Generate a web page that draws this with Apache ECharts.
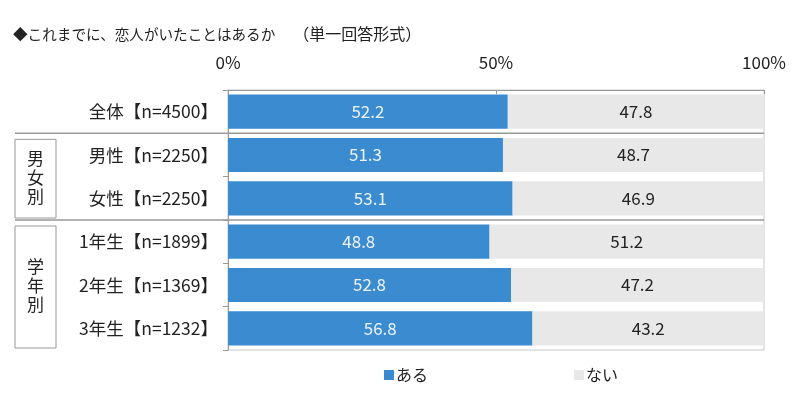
<!DOCTYPE html>
<html><head><meta charset="utf-8">
<script src="https://cdn.jsdelivr.net/npm/echarts@6/dist/echarts.min.js"></script>
<style>html,body{margin:0;padding:0;background:#fff}#c{width:802px;height:395px}</style>
</head><body><div id="c"></div>
<script>
var titleMain = '◆これまでに、恋人がいたことはあるか';
var titleSub = '（単一回答形式）';
var categories = ['全体【n=4500】','男性【n=2250】','女性【n=2250】','1年生【n=1899】','2年生【n=1369】','3年生【n=1232】'];
var seriesNames = ['ある','ない'];
var aru = [52.2, 51.3, 53.1, 48.8, 52.8, 56.8];
var nai = [47.8, 48.7, 46.9, 51.2, 47.2, 43.2];
var groups = [{name:'男女別', from:1, to:2}, {name:'学年別', from:3, to:5}];
var xTicks = [0, 50, 100];

var FONT = '"Noto Sans CJK JP", sans-serif';
var chart = echarts.init(document.getElementById('c'), null, {renderer:'canvas'});
var option = {
  animation:false,
  textStyle:{fontFamily:FONT},
  title:{text:'{a|'+titleMain+'}{s|}{b|'+titleSub+'}', left:8, top:21,
    textStyle:{fontFamily:FONT, fontSize:15, fontWeight:'normal', color:'#222',
      rich:{a:{fontFamily:FONT, fontSize:14.6, color:'#222'}, s:{width:18}, b:{fontFamily:FONT, fontSize:16, color:'#222'}}}},
  legend:{bottom:7, left:379, itemGap:146, itemWidth:10, itemHeight:10, icon:'rect',
    textStyle:{fontFamily:FONT, fontSize:16, color:'#222', padding:[0,0,0,-3]}, data:seriesNames},
  grid:{left:228, right:38, top:90, bottom:45, show:true, borderColor:'#c8c8c8', borderWidth:1},
  xAxis:{type:'value', position:'top', min:xTicks[0], max:xTicks[xTicks.length-1], interval:50,
    axisLine:{show:true, lineStyle:{color:'#999'}},
    axisTick:{show:true, inside:true, length:4, lineStyle:{color:'#999'}},
    splitLine:{show:false},
    axisLabel:{formatter:'{value}%', fontFamily:FONT, fontSize:17, color:'#222', margin:19}},
  yAxis:{type:'category', inverse:true, data:categories,
    axisLine:{show:true, lineStyle:{color:'#999'}},
    axisTick:{show:true, length:5, lineStyle:{color:'#999'}},
    axisLabel:{fontFamily:FONT, fontSize:17.5, color:'#222', margin:10}},
  series:[
    {name:seriesNames[0], type:'bar', stack:'a', data:aru, barCategoryGap:'21%',
     itemStyle:{color:'#3a8bd0'},
     label:{show:true, position:'inside', formatter:function(p){return p.value.toFixed(1);}, fontFamily:FONT, fontSize:17, color:'#eef4fa'}},
    {name:seriesNames[1], type:'bar', stack:'a', data:nai, barCategoryGap:'21%',
     itemStyle:{color:'#e8e8e8'},
     label:{show:true, position:'inside', formatter:function(p){return p.value.toFixed(1);}, fontFamily:FONT, fontSize:17, color:'#222'}}
  ]
};
chart.setOption(option);

function yc(i){ return chart.convertToPixel({yAxisIndex:0}, i); }
var xR = chart.convertToPixel({xAxisIndex:0}, 100);
var graphics = [];
var bounds = [];
groups.forEach(function(g){
  var top = (yc(g.from-1)+yc(g.from))/2;
  bounds.push(top);
  var botIdx = g.to;
  var bot = botIdx < categories.length-1 ? (yc(botIdx)+yc(botIdx+1))/2 : yc(botIdx) + (yc(1)-yc(0))/2;
  graphics.push({type:'rect', shape:{x:15, y:top+6, width:41, height:bot-top-8}, style:{fill:'none', stroke:'#999', lineWidth:1}});
  graphics.push({type:'text', style:{text:g.name.split('').join('\n'), x:35.5, y:(top+bot)/2+1, align:'center', verticalAlign:'middle',
    font:'17px '+FONT, fill:'#222', lineHeight:19}});
});
bounds.forEach(function(b){
  graphics.push({type:'line', shape:{x1:15, y1:b, x2:xR, y2:b}, style:{stroke:'#999', lineWidth:1.5}});
});
chart.setOption({graphic:graphics});
</script></body></html>
